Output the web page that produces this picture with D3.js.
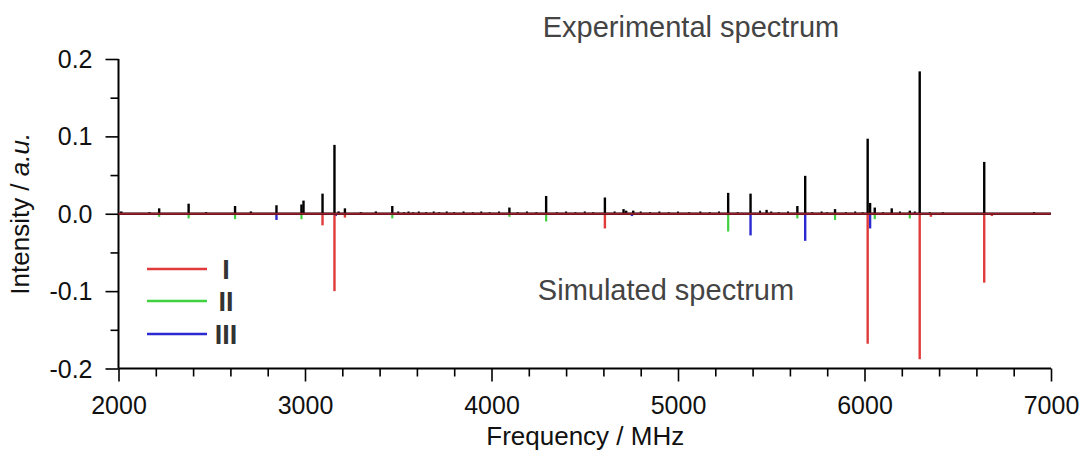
<!DOCTYPE html>
<html>
<head>
<meta charset="utf-8">
<script src="https://cdn.jsdelivr.net/npm/d3@7"></script>
<style>
  html, body { margin: 0; padding: 0; background: #fff; }
  svg { display: block; font-family: "Liberation Sans", Arial, sans-serif; }
</style>
</head>
<body>
<svg id="chart" width="1086" height="456"></svg>
<script>
// Experimental stick spectrum: [frequency MHz, intensity]
const experimental = [
  [2015, 0.003], [2166, 0.002], [2218, 0.007], [2376, 0.013], [2470, 0.002],
  [2625, 0.010], [2710, 0.003], [2847, 0.011], [2981, 0.012], [2992, 0.017],
  [3094, 0.026], [3158, 0.089], [3180, 0.003], [3214, 0.007], [3300, 0.002],
  [3380, 0.003], [3468, 0.010], [4096, 0.008], [4293, 0.023], [4608, 0.021],
  [4708, 0.006], [4722, 0.004], [4760, 0.004], [5269, 0.027], [5389, 0.026],
  [5475, 0.005], [5640, 0.010], [5682, 0.049], [5842, 0.006], [6017, 0.097],
  [6030, 0.014], [6055, 0.008], [6146, 0.007], [6243, 0.004], [6296, 0.184],
  [6642, 0.067], [6909, 0.002]
];

// Weak features along the experimental baseline
const baselineNoise = [
  [3500, 0.003], [3530, 0.002], [3555, 0.003], [3580, 0.002], [3610, 0.003],
  [3650, 0.002], [3690, 0.003], [3720, 0.002], [3760, 0.003], [3800, 0.002],
  [3850, 0.003], [3900, 0.002], [3945, 0.003], [3990, 0.002], [4040, 0.003],
  [4140, 0.002], [4190, 0.003], [4240, 0.002], [4350, 0.002], [4400, 0.003],
  [4450, 0.002], [4500, 0.003], [4545, 0.002], [4660, 0.003], [4800, 0.003],
  [4850, 0.002], [4900, 0.003], [4950, 0.002], [5000, 0.003], [5060, 0.002],
  [5120, 0.003], [5170, 0.002], [5220, 0.003], [5320, 0.002], [5440, 0.004],
  [5500, 0.003], [5540, 0.002], [5590, 0.003], [5720, 0.002], [5770, 0.003],
  [5800, 0.002], [5900, 0.002], [5950, 0.003], [5990, 0.002], [6100, 0.002],
  [6190, 0.003], [6270, 0.003], [6350, 0.002], [6420, 0.002], [6520, 0.001]
];

// Simulated spectra of species I, II and III (drawn downward)
const simulatedI = [
  [3094, -0.015], [3158, -0.100], [3214, -0.005], [4608, -0.019],
  [6017, -0.168], [6296, -0.188], [6356, -0.004], [6642, -0.089], [6683, -0.003]
];
const simulatedII = [
  [2218, -0.004], [2376, -0.006], [2625, -0.007], [2981, -0.007], [3468, -0.006],
  [4096, -0.004], [4293, -0.010], [5269, -0.023], [5640, -0.006], [5842, -0.008],
  [6055, -0.007], [6243, -0.006]
];
const simulatedIII = [
  [2847, -0.008], [3165, -0.003], [4753, -0.003], [5389, -0.028],
  [5682, -0.035], [6030, -0.019]
];

const seriesNames = ["I", "II", "III"];
const seriesColors = ["#e03a3a", "#3fd13f", "#2a2ad0"];

const xTicks = [2000, 3000, 4000, 5000, 6000, 7000];
const yTicks = [0.2, 0.1, 0.0, -0.1, -0.2];

const svg = d3.select("#chart");
const x = d3.scaleLinear().domain([2000, 7000]).range([118.5, 1051]);
const y = d3.scaleLinear().domain([-0.2, 0.2]).range([368.5, 59]);

// Minor ticks
const xMinor = d3.range(2000, 7001, 200).filter(v => v % 1000 !== 0);
const yMinor = [0.15, 0.05, -0.05, -0.15];

// X axis
const xAxis = svg.append("g").attr("transform", `translate(0,${y(-0.2)})`);
xAxis.append("g").call(d3.axisBottom(x).tickValues(xMinor).tickSize(8).tickFormat(""))
  .select(".domain").remove();
const xMajor = xAxis.append("g")
  .call(d3.axisBottom(x).tickValues(xTicks).tickSize(13).tickFormat(d3.format("d")));
xMajor.select(".domain").attr("stroke-width", 2).attr("d", `M${x(2000)},0H${x(7000)}`);
xAxis.selectAll(".tick line").attr("stroke-width", 1.6);
xMajor.selectAll(".tick text").attr("font-size", 25).attr("fill", "#111")
  .attr("y", 0).attr("dy", 0).attr("transform", "translate(0,45.5)");

// Y axis
const yAxis = svg.append("g").attr("transform", `translate(${x(2000)},0)`);
yAxis.append("g").call(d3.axisLeft(y).tickValues(yMinor).tickSize(8).tickFormat(""))
  .select(".domain").remove();
const yMajor = yAxis.append("g")
  .call(d3.axisLeft(y).tickValues(yTicks).tickSize(13)
    .tickFormat(d => d3.format(".1f")(d).replace("\u2212", "-")));
yMajor.select(".domain").attr("stroke-width", 2).attr("d", `M0,${y(0.2)}V${y(-0.2)}`);
yAxis.selectAll(".tick line").attr("stroke-width", 1.6);
yMajor.selectAll(".tick text").attr("font-size", 25).attr("fill", "#111")
  .attr("x", -26).attr("dy", "0.34em");

// Axis titles
svg.append("text")
  .attr("x", (x(2000) + x(7000)) / 2 + 0.5).attr("y", 445)
  .attr("text-anchor", "middle").attr("font-size", 26).attr("fill", "#111")
  .text("Frequency / MHz");

const yTitle = svg.append("text")
  .attr("transform", `translate(29,${y(0)}) rotate(-90)`)
  .attr("text-anchor", "middle").attr("font-size", 26).attr("fill", "#111");
yTitle.append("tspan").text("Intensity / ");
yTitle.append("tspan").attr("font-style", "italic").text("a.u.");

// Stick drawing helper
function sticks(data, color, width) {
  svg.append("g").selectAll("line").data(data).join("line")
    .attr("x1", d => x(d[0])).attr("x2", d => x(d[0]))
    .attr("y1", y(0)).attr("y2", d => y(d[1]))
    .attr("stroke", color).attr("stroke-width", width);
}

sticks(baselineNoise, "#111", 2);
sticks(experimental, "#000", 2.4);
sticks(simulatedII, seriesColors[1], 2.2);
sticks(simulatedIII, seriesColors[2], 2.4);
sticks(simulatedI, seriesColors[0], 2.4);

// Baselines of both spectra
svg.append("line")
  .attr("x1", x(2000)).attr("x2", x(7000)).attr("y1", y(0)).attr("y2", y(0))
  .attr("stroke", "#000").attr("stroke-width", 2.6);
svg.append("line")
  .attr("x1", x(2000)).attr("x2", x(7000)).attr("y1", y(0)).attr("y2", y(0))
  .attr("stroke", "#c8283c").attr("stroke-width", 2).attr("stroke-opacity", 0.75);

// Spectrum annotations
svg.append("text").attr("x", 691).attr("y", 37).attr("text-anchor", "middle")
  .attr("font-size", 29).attr("fill", "#444").text("Experimental spectrum");
svg.append("text").attr("x", 666).attr("y", 300).attr("text-anchor", "middle")
  .attr("font-size", 29).attr("fill", "#444").text("Simulated spectrum");

// Legend
const legendY = [269, 301, 334];
const legend = svg.append("g");
seriesNames.forEach((name, i) => {
  legend.append("line")
    .attr("x1", 147).attr("x2", 207).attr("y1", legendY[i]).attr("y2", legendY[i])
    .attr("stroke", seriesColors[i]).attr("stroke-width", 2.6);
  legend.append("text")
    .attr("x", 226).attr("y", legendY[i]).attr("dy", "0.36em")
    .attr("text-anchor", "middle").attr("font-size", 27).attr("font-weight", "bold")
    .attr("fill", "#333").text(name);
});
</script>
</body>
</html>
